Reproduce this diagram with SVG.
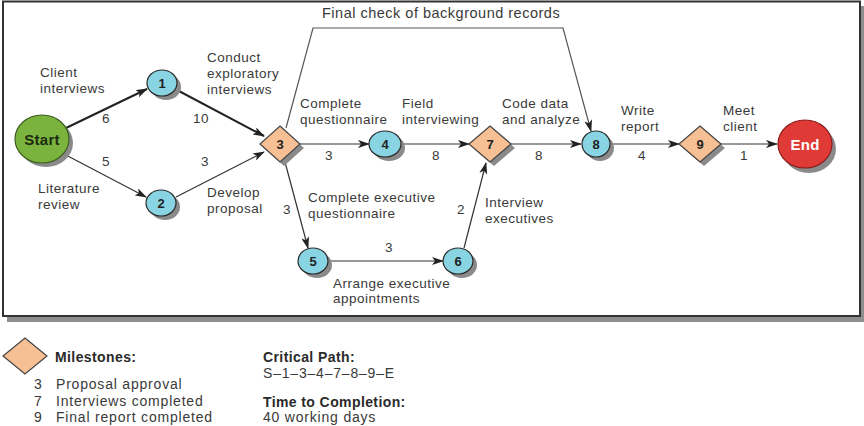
<svg xmlns="http://www.w3.org/2000/svg" width="864" height="426" viewBox="0 0 864 426">
<defs>
<marker id="arr" viewBox="0 0 12 8" refX="11" refY="4" markerWidth="12" markerHeight="8" markerUnits="userSpaceOnUse" orient="auto">
<path d="M0,0 L12,4 L0,8 L3,4 Z" fill="#222"/>
</marker>
<style>
.lbl{font-family:"Liberation Sans",Arial,sans-serif;font-size:13.5px;letter-spacing:0.5px;fill:#3a3a3a}
.ttl{font-family:"Liberation Sans",Arial,sans-serif;font-size:14.5px;letter-spacing:0.5px;fill:#3a3a3a}
.num{font-family:"Liberation Sans",Arial,sans-serif;font-size:13px;font-weight:bold;fill:#222;text-anchor:middle}
.big{font-family:"Liberation Sans",Arial,sans-serif;font-size:15px;font-weight:bold;text-anchor:middle;letter-spacing:0.3px}
.leg{font-family:"Liberation Sans",Arial,sans-serif;font-size:14px;letter-spacing:0.8px;fill:#3a3a3a}
.legb{font-family:"Liberation Sans",Arial,sans-serif;font-size:14px;font-weight:bold;letter-spacing:0.4px;fill:#2a2a2a}
.circ{fill:#88d4e2;stroke:#2a2a2a;stroke-width:1.2}
.dia{fill:#f7bf94;stroke:#444;stroke-width:1.2}
.shd{fill:#8a8a8a}
.e{fill:none;stroke:#333;stroke-width:1.2;marker-end:url(#arr)}
.ec{fill:none;stroke:#222;stroke-width:2;marker-end:url(#arr)}
.ep{fill:none;stroke:#555;stroke-width:1.2;marker-end:url(#arr)}
</style>
</defs>
<rect width="864" height="426" fill="#fff"/>
<rect x="7" y="6" width="857" height="316" fill="#8e8e8e"/>
<rect x="3" y="1.5" width="857" height="314.5" fill="#fff" stroke="#333" stroke-width="2"/>

<g id="connectors">
<line class="ec" x1="66" y1="128" x2="147" y2="89"/>
<line class="ec" x1="177" y1="90" x2="264" y2="136"/>
<line class="e" x1="64" y1="154" x2="146" y2="197"/>
<line class="e" x1="176" y1="197" x2="264" y2="152"/>
<line class="e" x1="300" y1="144" x2="369" y2="144"/>
<line class="e" x1="401" y1="144" x2="469" y2="144"/>
<line class="e" x1="511" y1="144" x2="581" y2="144"/>
<line class="e" x1="610" y1="144" x2="679" y2="144"/>
<line class="e" x1="721" y1="144" x2="777" y2="144"/>
<polyline class="ep" points="286,128 313,28 563,28 591,131"/>
<line class="e" x1="285" y1="162" x2="308" y2="248"/>
<line class="e" x1="328" y1="261" x2="443" y2="261"/>
<line class="e" x1="464" y1="248" x2="486" y2="163"/>
</g>

<g id="edge-labels">
<text class="lbl" x="40" y="77">Client</text>
<text class="lbl" x="40" y="93">interviews</text>
<text class="lbl" x="102" y="123">6</text>
<text class="lbl" x="38" y="193">Literature</text>
<text class="lbl" x="38" y="209">review</text>
<text class="lbl" x="102" y="166">5</text>
<text class="lbl" x="207" y="62">Conduct</text>
<text class="lbl" x="207" y="78">exploratory</text>
<text class="lbl" x="207" y="94">interviews</text>
<text class="lbl" x="193" y="123">10</text>
<text class="lbl" x="201" y="166">3</text>
<text class="lbl" x="207" y="197">Develop</text>
<text class="lbl" x="207" y="213">proposal</text>
<text class="ttl" x="322" y="18">Final check of background records</text>
<text class="lbl" x="300" y="108">Complete</text>
<text class="lbl" x="300" y="124">questionnaire</text>
<text class="lbl" x="325" y="160">3</text>
<text class="lbl" x="402" y="108">Field</text>
<text class="lbl" x="402" y="124">interviewing</text>
<text class="lbl" x="432" y="160">8</text>
<text class="lbl" x="502" y="108">Code data</text>
<text class="lbl" x="502" y="124">and analyze</text>
<text class="lbl" x="535" y="160">8</text>
<text class="lbl" x="621" y="115">Write</text>
<text class="lbl" x="621" y="131">report</text>
<text class="lbl" x="638" y="160">4</text>
<text class="lbl" x="723" y="115">Meet</text>
<text class="lbl" x="723" y="131">client</text>
<text class="lbl" x="740" y="160">1</text>
<text class="lbl" x="283" y="214">3</text>
<text class="lbl" x="308" y="202">Complete executive</text>
<text class="lbl" x="308" y="218">questionnaire</text>
<text class="lbl" x="385" y="252">3</text>
<text class="lbl" x="333" y="288">Arrange executive</text>
<text class="lbl" x="333" y="303">appointments</text>
<text class="lbl" x="457" y="214">2</text>
<text class="lbl" x="485" y="207">Interview</text>
<text class="lbl" x="485" y="223">executives</text>
</g>

<g id="node-start">
<ellipse class="shd" cx="46" cy="143" rx="27" ry="24"/>
<ellipse cx="42" cy="139" rx="27" ry="24" fill="#7ab33e" stroke="#3d5e1d" stroke-width="1.2"/>
<text class="big" x="42" y="145" fill="#1e2a10">Start</text>
</g>
<g id="node-1">
<ellipse class="shd" cx="166" cy="87" rx="15" ry="13"/>
<ellipse class="circ" cx="162" cy="83" rx="15" ry="13"/>
<text class="num" x="162" y="88">1</text>
</g>
<g id="node-2">
<ellipse class="shd" cx="165" cy="207" rx="15" ry="13"/>
<ellipse class="circ" cx="161" cy="203" rx="15" ry="13"/>
<text class="num" x="161" y="208">2</text>
</g>
<g id="node-3">
<polygon class="shd" points="284,130 304,148 284,166 264,148"/>
<polygon class="dia" points="280,126 300,144 280,162 260,144"/>
<text class="num" x="280" y="149">3</text>
</g>
<g id="node-4">
<ellipse class="shd" cx="389" cy="148" rx="16" ry="13"/>
<ellipse class="circ" cx="385" cy="144" rx="16" ry="13"/>
<text class="num" x="385" y="149">4</text>
</g>
<g id="node-7">
<polygon class="shd" points="494,130 515,148 494,166 473,148"/>
<polygon class="dia" points="490,126 511,144 490,162 469,144"/>
<text class="num" x="490" y="149">7</text>
</g>
<g id="node-8">
<ellipse class="shd" cx="600" cy="148" rx="14" ry="13"/>
<ellipse class="circ" cx="596" cy="144" rx="14" ry="13"/>
<text class="num" x="596" y="149">8</text>
</g>
<g id="node-9">
<polygon class="shd" points="704,130 725,148 704,166 683,148"/>
<polygon class="dia" points="700,126 721,144 700,162 679,144"/>
<text class="num" x="700" y="149">9</text>
</g>
<g id="node-end">
<ellipse class="shd" cx="809" cy="149" rx="27" ry="24"/>
<ellipse cx="805" cy="144" rx="27" ry="24" fill="#e03a36" stroke="#8a1f1f" stroke-width="1.2"/>
<text class="big" x="805" y="150" fill="#fff">End</text>
</g>
<g id="node-5">
<ellipse class="shd" cx="317" cy="265" rx="15" ry="13"/>
<ellipse class="circ" cx="313" cy="261" rx="15" ry="13"/>
<text class="num" x="313" y="266">5</text>
</g>
<g id="node-6">
<ellipse class="shd" cx="462" cy="265" rx="15" ry="13"/>
<ellipse class="circ" cx="458" cy="261" rx="15" ry="13"/>
<text class="num" x="458" y="266">6</text>
</g>

<g id="legend">
<polygon class="dia" points="25,338 47,356 25,374 3,356"/>
<text class="legb" x="55" y="362">Milestones:</text>
<text class="leg" x="34" y="389">3</text>
<text class="leg" x="56" y="389">Proposal approval</text>
<text class="leg" x="34" y="406">7</text>
<text class="leg" x="56" y="406">Interviews completed</text>
<text class="leg" x="34" y="422">9</text>
<text class="leg" x="56" y="422">Final report completed</text>
<text class="legb" x="263" y="362">Critical Path:</text>
<text class="leg" x="263" y="378">S–1–3–4–7–8–9–E</text>
<text class="legb" x="263" y="407">Time to Completion:</text>
<text class="leg" x="263" y="422">40 working days</text>
</g>
</svg>
